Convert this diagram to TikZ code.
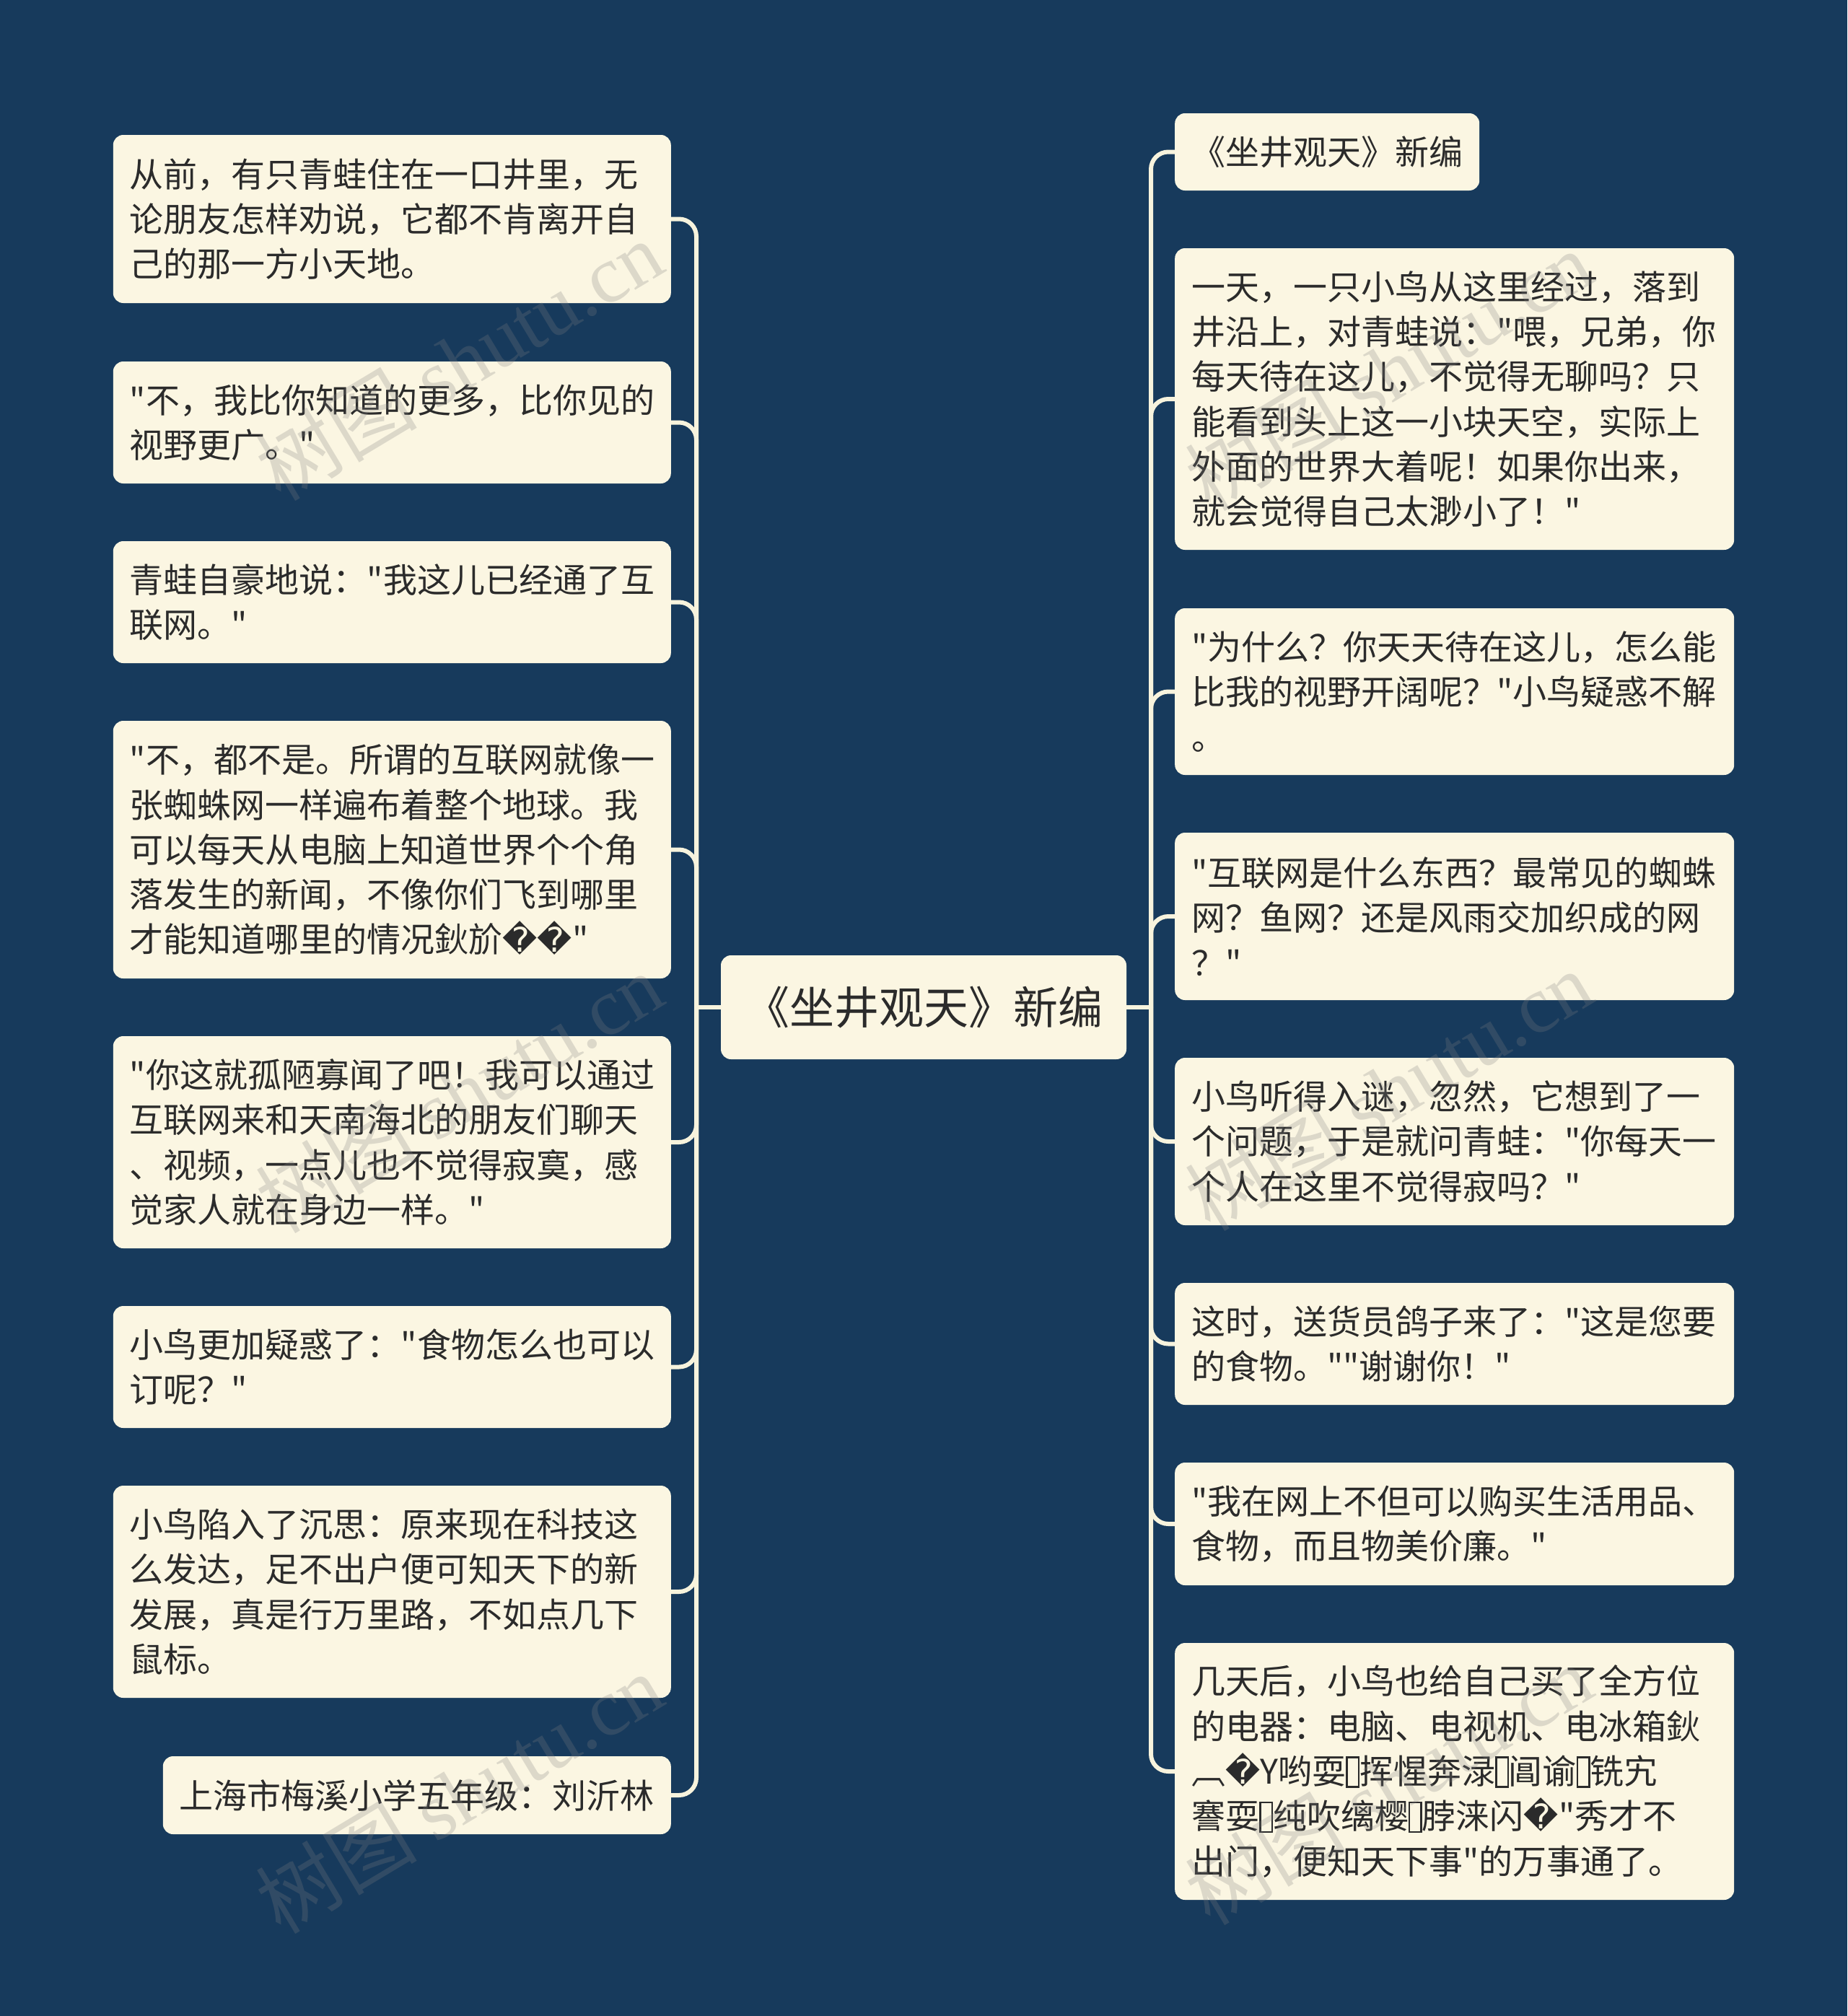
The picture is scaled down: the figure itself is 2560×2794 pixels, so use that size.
\documentclass[tikz,border=0pt]{standalone}
\usepackage{fontspec}
\setmainfont{Noto Sans CJK SC}[Ligatures=TeXOff]
\newfontfamily\dejavu{DejaVu Sans}
\newfontfamily\wmlat{Liberation Serif}
\definecolor{bg}{HTML}{173A5C}
\definecolor{boxc}{HTML}{FBF6E2}
\definecolor{linec}{HTML}{F7F3DD}
\definecolor{txt}{HTML}{2B2B2B}
\newcommand{\repch}{{\dejavu\char"FFFD}}
\newcommand{\tofu}{{\setlength{\fboxsep}{0pt}\setlength{\fboxrule}{0.05em}\raisebox{-0.06em}{\fbox{\rule{0pt}{0.82em}\hspace{0.3em}}}}}
\tikzset{
  leaf/.style={fill=boxc, rounded corners=14pt, inner xsep=23pt, inner ysep=0pt,
    text=txt, align=left, font=\fontsize{47}{62.3}\selectfont},
  lw/.style={text width=727pt},
  rw/.style={text width=729pt},
  conn/.style={draw=linec, line width=6pt, rounded corners=24pt},
  wm/.style={text=gray, opacity=0.25, font=\fontsize{112}{120}\selectfont, inner sep=0pt}
}
\begin{document}
\begin{tikzpicture}[x=1pt,y=-1pt]
\fill[bg] (0,0) rectangle (2560,2794);
% centre
\node[fill=boxc, rounded corners=14pt, text=txt, minimum width=562pt, minimum height=144pt,
  inner sep=0pt, font=\fontsize{62}{70}\selectfont] (C) at (1280,1396) {《坐井观天》新编};
% left
\node[leaf, lw, anchor=east, minimum height=233pt] (L1) at (930,303.5)
 {从前，有只青蛙住在一口井里，无\\论朋友怎样劝说，它都不肯离开自\\己的那一方小天地。};
\node[leaf, lw, anchor=east, minimum height=169pt] (L2) at (930,585.5)
 {"不，我比你知道的更多，比你见的\\视野更广。"};
\node[leaf, lw, anchor=east, minimum height=169pt] (L3) at (930,834.5)
 {青蛙自豪地说："我这儿已经通了互\\联网。"};
\node[leaf, lw, anchor=east, minimum height=357pt] (L4) at (930,1177.5)
 {"不，都不是。所谓的互联网就像一\\张蜘蛛网一样遍布着整个地球。我\\可以每天从电脑上知道世界个个角\\落发生的新闻，不像你们飞到哪里\\才能知道哪里的情况鈥斺\repch\repch"};
\node[leaf, lw, anchor=east, minimum height=294pt] (L5) at (930,1583)
 {"你这就孤陋寡闻了吧！我可以通过\\互联网来和天南海北的朋友们聊天\\、视频，一点儿也不觉得寂寞，感\\觉家人就在身边一样。"};
\node[leaf, lw, anchor=east, minimum height=169pt] (L6) at (930,1894.5)
 {小鸟更加疑惑了："食物怎么也可以\\订呢？"};
\node[leaf, lw, anchor=east, minimum height=294pt] (L7) at (930,2206)
 {小鸟陷入了沉思：原来现在科技这\\么发达，足不出户便可知天下的新\\发展，真是行万里路，不如点几下\\鼠标。};
\node[leaf, anchor=east, minimum height=108pt] (L8) at (930,2488)
 {上海市梅溪小学五年级：刘沂林};
% right
\node[leaf, anchor=west, minimum height=107pt] (R1) at (1628,210.5)
 {《坐井观天》新编};
\node[leaf, rw, anchor=west, minimum height=418pt] (R2) at (1628,553)
 {一天，一只小鸟从这里经过，落到\\井沿上，对青蛙说："喂，兄弟，你\\每天待在这儿，不觉得无聊吗？只\\能看到头上这一小块天空，实际上\\外面的世界大着呢！如果你出来，\\就会觉得自己太渺小了！"};
\node[leaf, rw, anchor=west, minimum height=231pt] (R3) at (1628,958.5)
 {"为什么？你天天待在这儿，怎么能\\比我的视野开阔呢？"小鸟疑惑不解\\。};
\node[leaf, rw, anchor=west, minimum height=232pt] (R4) at (1628,1270)
 {"互联网是什么东西？最常见的蜘蛛\\网？鱼网？还是风雨交加织成的网\\？"};
\node[leaf, rw, anchor=west, minimum height=232pt] (R5) at (1628,1582)
 {小鸟听得入谜，忽然，它想到了一\\个问题，于是就问青蛙："你每天一\\个人在这里不觉得寂吗？"};
\node[leaf, rw, anchor=west, minimum height=169pt] (R6) at (1628,1862.5)
 {这时，送货员鸽子来了："这是您要\\的食物。""谢谢你！"};
\node[leaf, rw, anchor=west, minimum height=170pt] (R7) at (1628,2112)
 {"我在网上不但可以购买生活用品、\\食物，而且物美价廉。"};
\node[leaf, rw, anchor=west, minimum height=356pt] (R8) at (1628,2455)
 {几天后，小鸟也给自己买了全方位\\的电器：电脑、电视机、电冰箱鈥\\︹\repch Y哟耍\tofu 挥惺奔渌\tofu 阊谕\tofu 铣宄\\謇耍\tofu 纯吹缡樱\tofu 脖涞闪\repch"秀才不\\出门，便知天下事"的万事通了。};
% connectors
\coordinate (lj) at (965,1396);
\coordinate (rj) at (1595,1396);
\draw[conn] (C.west) -- (lj);
\draw[conn] (C.east) -- (rj);
\foreach \n in {L1,L2,L3,L4,L5,L6,L7,L8} \draw[conn] (lj) |- (\n.east);
\foreach \n in {R1,R2,R3,R4,R5,R6,R7,R8} \draw[conn] (rj) |- (\n.west);
% watermarks
\node[wm, rotate=31] (w1) at (636,499) {树图 {\wmlat shutu.cn}};
\node[wm, rotate=31] (w2) at (1924,513) {树图 {\wmlat shutu.cn}};
\node[wm, rotate=31] (w3) at (636,1514) {树图 {\wmlat shutu.cn}};
\node[wm, rotate=31] (w4) at (1924,1511) {树图 {\wmlat shutu.cn}};
\node[wm, rotate=31] (w5) at (636,2485) {树图 {\wmlat shutu.cn}};
\node[wm, rotate=31] (w6) at (1924,2473) {树图 {\wmlat shutu.cn}};
\end{tikzpicture}
\end{document}
